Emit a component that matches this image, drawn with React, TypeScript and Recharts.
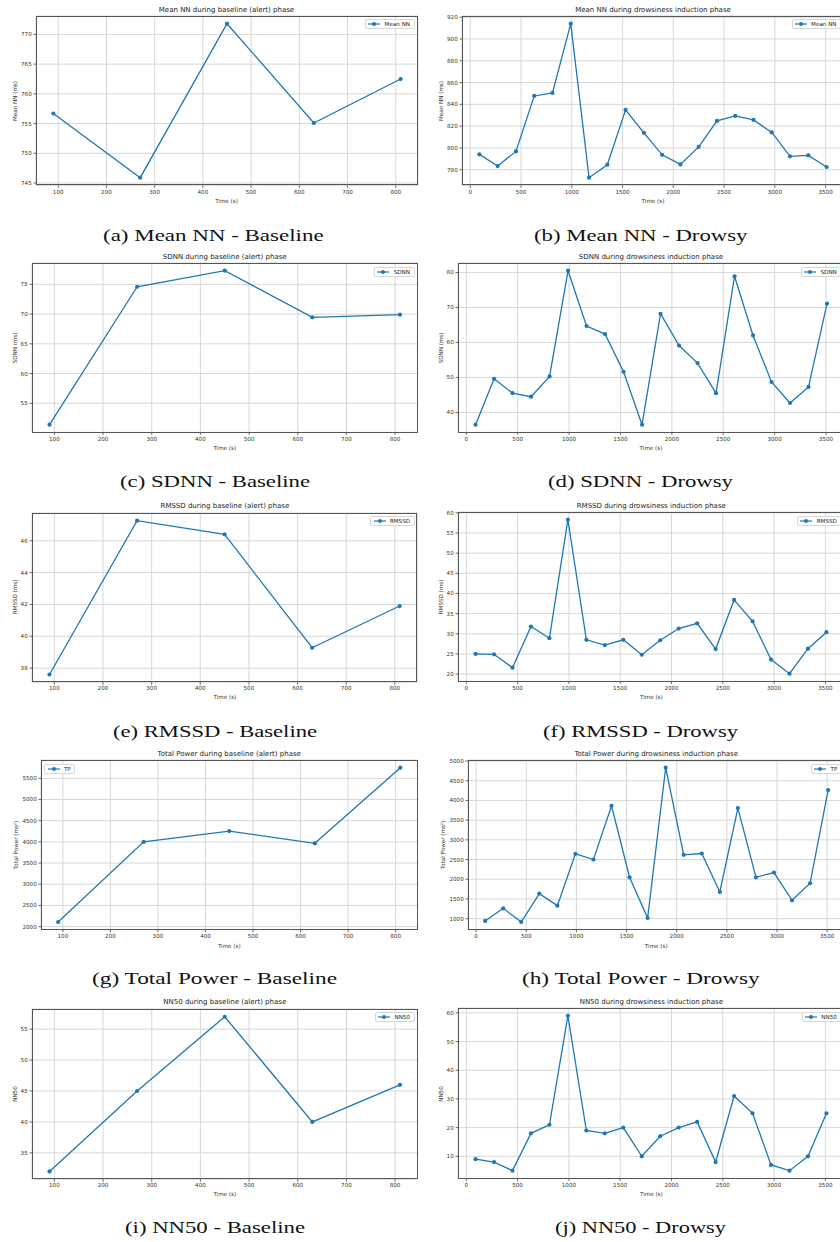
import React from 'react';
import { LineChart, Line, XAxis, YAxis, CartesianGrid } from 'recharts';

// ---------- DATA ----------
const timeBaseline = [90, 270, 450, 630, 810];
const timeDrowsy = [90, 270, 450, 630, 810, 990, 1170, 1350, 1530, 1710, 1890, 2070, 2250, 2430, 2610, 2790, 2970, 3150, 3330, 3510];

const meanNNBaseline = [756.7, 745.9, 771.8, 755.1, 762.5];
const meanNNDrowsy = [794.1, 783.4, 796.8, 847.7, 850.5, 914.0, 772.7, 784.6, 834.9, 813.9, 793.7, 784.9, 801.0, 824.8, 829.4, 825.7, 814.2, 792.3, 793.2, 782.5];
const sdnnBaseline = [51.4, 74.6, 77.3, 69.45, 69.9];
const sdnnDrowsy = [36.5, 49.6, 45.5, 44.5, 50.3, 80.5, 64.7, 62.4, 51.6, 36.5, 68.2, 59.1, 54.1, 45.5, 78.9, 62.0, 48.7, 42.7, 47.3, 71.1];
const rmssdBaseline = [37.6, 47.26, 46.4, 39.28, 41.9];
const rmssdDrowsy = [25.0, 24.9, 21.6, 31.8, 28.9, 58.3, 28.5, 27.2, 28.5, 24.8, 28.4, 31.3, 32.6, 26.2, 38.4, 33.1, 23.6, 20.1, 26.3, 30.4];
const tpBaseline = [2110, 4000, 4255, 3965, 5750];
const tpDrowsy = [942, 1262, 916, 1636, 1330, 2645, 2500, 3865, 2050, 1017, 4830, 2620, 2653, 1678, 3805, 2050, 2170, 1466, 1898, 4263];
const nn50Baseline = [32, 45, 57, 40, 46];
const nn50Drowsy = [9, 8, 5, 18, 21, 59, 19, 18, 20, 10, 17, 20, 22, 8, 31, 25, 7, 5, 10, 25];

const xTicksBaseline = [100, 200, 300, 400, 500, 600, 700, 800];
const xTicksDrowsy = [0, 500, 1000, 1500, 2000, 2500, 3000, 3500];

const yTicksMeanNNBaseline = [745, 750, 755, 760, 765, 770];
const yTicksMeanNNDrowsy = [780, 800, 820, 840, 860, 880, 900, 920];
const yTicksSdnnBaseline = [55, 60, 65, 70, 75];
const yTicksSdnnDrowsy = [40, 50, 60, 70, 80];
const yTicksRmssdBaseline = [38, 40, 42, 44, 46];
const yTicksRmssdDrowsy = [20, 25, 30, 35, 40, 45, 50, 55, 60];
const yTicksTpBaseline = [2000, 2500, 3000, 3500, 4000, 4500, 5000, 5500];
const yTicksTpDrowsy = [1000, 1500, 2000, 2500, 3000, 3500, 4000, 4500, 5000];
const yTicksNn50Baseline = [35, 40, 45, 50, 55];
const yTicksNn50Drowsy = [10, 20, 30, 40, 50, 60];

const seriesNames = ['Mean NN', 'SDNN', 'RMSSD', 'TP', 'NN50'];
const yLabels = ['Mean NN (ms)', 'SDNN (ms)', 'RMSSD (ms)', 'Total Power (ms\u00B2)', 'NN50'];
const titlesBaseline = [
  'Mean NN during baseline (alert) phase',
  'SDNN during baseline (alert) phase',
  'RMSSD during baseline (alert) phase',
  'Total Power during baseline (alert) phase',
  'NN50 during baseline (alert) phase',
];
const titlesDrowsy = [
  'Mean NN during drowsiness induction phase',
  'SDNN during drowsiness induction phase',
  'RMSSD during drowsiness induction phase',
  'Total Power during drowsiness induction phase',
  'NN50 during drowsiness induction phase',
];
const captionsBaseline = ['(a) Mean NN - Baseline', '(c) SDNN - Baseline', '(e) RMSSD - Baseline', '(g) Total Power - Baseline', '(i) NN50 - Baseline'];
const captionsDrowsy = ['(b) Mean NN - Drowsy', '(d) SDNN - Drowsy', '(f) RMSSD - Drowsy', '(h) Total Power - Drowsy', '(j) NN50 - Drowsy'];
const xLabel = 'Time (s)';

// ---------- LAYOUT ----------
type Rect = { l: number; t: number; r: number; b: number };
const rectsLeft: Rect[] = [
  { l: 35.5, t: 16, r: 417.5, b: 185.4 },
  { l: 32, t: 263.3, r: 417.5, b: 432.7 },
  { l: 32.3, t: 512.5, r: 417.5, b: 681.7 },
  { l: 41, t: 760.3, r: 417.5, b: 930 },
  { l: 32, t: 1008.5, r: 417.5, b: 1178.7 },
];
const rectsRight: Rect[] = [
  { l: 462, t: 16, r: 844, b: 185.4 },
  { l: 457.7, t: 263.3, r: 844.3, b: 432.7 },
  { l: 458.3, t: 512.3, r: 844.3, b: 681.7 },
  { l: 467.6, t: 760.3, r: 844.9, b: 930 },
  { l: 458.3, t: 1008.3, r: 844.3, b: 1178.7 },
];
const yLabelXLeft = [15, 15, 15, 15.7, 15];
const yLabelXRight = [440.7, 440.7, 440.7, 442.7, 440.7];
const legendSideLeft = ['right', 'right', 'right', 'left', 'right'];
const captionLeft = [
  { cx: 213, base: 240.8, w: 220.6 },
  { cx: 215, base: 487, w: 190 },
  { cx: 215.3, base: 737, w: 204 },
  { cx: 214.2, base: 983.7, w: 245 },
  { cx: 215, base: 1232.6, w: 180 },
];
const captionRight = [
  { cx: 641, base: 240.8, w: 213.4 },
  { cx: 640.8, base: 487, w: 185 },
  { cx: 640.8, base: 737, w: 195 },
  { cx: 640.5, base: 983.7, w: 237.6 },
  { cx: 640.5, base: 1232.6, w: 171 },
];

const PAGE_W = 840;
const PAGE_H = 1242;
const BLUE = '#1f77b4';
const SANS = "'DejaVu Sans', sans-serif";
const TICK_FS = 5.6;

function paddedDomain(vals: number[]): [number, number] {
  const mn = Math.min(...vals);
  const mx = Math.max(...vals);
  const m = (mx - mn) * 0.05;
  return [mn - m, mx + m];
}

type PanelProps = {
  times: number[];
  values: number[];
  xTicks: number[];
  yTicks: number[];
  rect: Rect;
  title: string;
  yLabel: string;
  yLabelX: number;
  name: string;
  legendSide: string;
  caption: string;
  cap: { cx: number; base: number; w: number };
};

function Panel(p: PanelProps) {
  const { rect } = p;
  const data = p.times.map((t, i) => ({ t, v: p.values[i] }));
  const yAxisW = 28;
  const mTop = 3;
  const mRight = 3;
  const xAxisH = 14;
  const pw = rect.r - rect.l;
  const ph = rect.b - rect.t;
  const chartW = yAxisW + pw + mRight;
  const chartH = mTop + ph + xAxisH;
  const tickStyle = { fontSize: TICK_FS, fill: '#333', fontFamily: SANS };

  const legendStyle: React.CSSProperties = {
    position: 'absolute',
    top: rect.t + 3.3,
    height: 10,
    boxSizing: 'border-box',
    border: '1px solid #d6d6d6',
    borderRadius: 2,
    background: 'rgba(255,255,255,0.9)',
    display: 'flex',
    alignItems: 'center',
    padding: '0 3.5px 0 2.3px',
    fontFamily: SANS,
    fontSize: TICK_FS,
    color: '#222',
    whiteSpace: 'nowrap',
  };
  if (p.legendSide === 'left') legendStyle.left = rect.l + 3.3;
  else legendStyle.right = PAGE_W - (rect.r - 3);

  return (
    <>
      <div style={{ position: 'absolute', left: rect.l - yAxisW, top: rect.t - mTop }}>
        <LineChart width={chartW} height={chartH} data={data} margin={{ top: mTop, right: mRight, bottom: 0, left: 0 }}>
          <CartesianGrid stroke="#d3d3d3" strokeWidth={0.9} />
          <XAxis
            type="number"
            dataKey="t"
            domain={paddedDomain(p.times)}
            allowDataOverflow
            ticks={p.xTicks}
            interval={0}
            height={xAxisH}
            tick={tickStyle}
            tickSize={2.5}
            tickMargin={1.8}
            axisLine={false}
            tickLine={{ stroke: '#444', strokeWidth: 0.8 }}
          />
          <YAxis
            type="number"
            domain={paddedDomain(p.values)}
            allowDataOverflow
            ticks={p.yTicks}
            interval={0}
            width={yAxisW}
            tick={tickStyle}
            tickSize={2.5}
            tickMargin={1.8}
            axisLine={false}
            tickLine={{ stroke: '#444', strokeWidth: 0.8 }}
          />
          <Line
            type="linear"
            dataKey="v"
            name={p.name}
            stroke={BLUE}
            strokeWidth={1.3}
            dot={{ r: 2.1, fill: BLUE, stroke: BLUE, strokeWidth: 0 }}
            activeDot={false}
            isAnimationActive={false}
          />
        </LineChart>
      </div>
      {/* axes frame */}
      <div
        style={{
          position: 'absolute',
          left: rect.l,
          top: rect.t,
          width: pw,
          height: ph,
          boxSizing: 'border-box',
          border: '0.9px solid #555',
          pointerEvents: 'none',
        }}
      />
      {/* title */}
      <div
        style={{
          position: 'absolute',
          left: rect.l,
          width: pw,
          top: rect.t - 6.5,
          transform: 'translateY(-50%)',
          textAlign: 'center',
          fontFamily: SANS,
          fontSize: 7,
          lineHeight: '8px',
          color: '#222',
          whiteSpace: 'nowrap',
        }}
      >
        {p.title}
      </div>
      {/* x label */}
      <div
        style={{
          position: 'absolute',
          left: rect.l,
          width: pw,
          top: rect.b + 15.5,
          transform: 'translateY(-50%)',
          textAlign: 'center',
          fontFamily: SANS,
          fontSize: TICK_FS,
          lineHeight: '7px',
          color: '#333',
          whiteSpace: 'nowrap',
        }}
      >
        {xLabel}
      </div>
      {/* y label */}
      <div
        style={{
          position: 'absolute',
          left: p.yLabelX,
          top: (rect.t + rect.b) / 2,
          transform: 'translate(-50%, -50%) rotate(-90deg)',
          fontFamily: SANS,
          fontSize: TICK_FS,
          lineHeight: '7px',
          color: '#333',
          whiteSpace: 'nowrap',
        }}
      >
        {p.yLabel}
      </div>
      {/* legend */}
      <div style={legendStyle}>
        <svg width={12} height={6} style={{ display: 'block' }}>
          <line x1={0} y1={3} x2={12} y2={3} stroke={BLUE} strokeWidth={1.2} />
          <circle cx={6} cy={3} r={2} fill={BLUE} />
        </svg>
        <span style={{ marginLeft: 4.3, lineHeight: '8px' }}>{p.name}</span>
      </div>
      {/* caption */}
      <svg
        width={p.cap.w + 40}
        height={30}
        style={{ position: 'absolute', left: p.cap.cx - (p.cap.w + 40) / 2, top: p.cap.base - 20 }}
      >
        <text
          x={(p.cap.w + 40) / 2}
          y={20}
          textAnchor="middle"
          textLength={p.cap.w}
          lengthAdjust="spacingAndGlyphs"
          fontFamily="'Liberation Serif', 'DejaVu Serif', serif"
          fontSize={16}
          fill="#111"
        >
          {p.caption}
        </text>
      </svg>
    </>
  );
}

export default function App() {
  const baselineSeries = [meanNNBaseline, sdnnBaseline, rmssdBaseline, tpBaseline, nn50Baseline];
  const drowsySeries = [meanNNDrowsy, sdnnDrowsy, rmssdDrowsy, tpDrowsy, nn50Drowsy];
  const yTicksB = [yTicksMeanNNBaseline, yTicksSdnnBaseline, yTicksRmssdBaseline, yTicksTpBaseline, yTicksNn50Baseline];
  const yTicksD = [yTicksMeanNNDrowsy, yTicksSdnnDrowsy, yTicksRmssdDrowsy, yTicksTpDrowsy, yTicksNn50Drowsy];

  return (
    <div
      style={{
        position: 'absolute',
        left: 0,
        top: 0,
        width: PAGE_W,
        height: PAGE_H,
        overflow: 'hidden',
        background: '#fff',
      }}
    >
      {seriesNames.map((name, i) => (
        <React.Fragment key={name}>
          <Panel
            times={timeBaseline}
            values={baselineSeries[i]}
            xTicks={xTicksBaseline}
            yTicks={yTicksB[i]}
            rect={rectsLeft[i]}
            title={titlesBaseline[i]}
            yLabel={yLabels[i]}
            yLabelX={yLabelXLeft[i]}
            name={name}
            legendSide={legendSideLeft[i]}
            caption={captionsBaseline[i]}
            cap={captionLeft[i]}
          />
          <Panel
            times={timeDrowsy}
            values={drowsySeries[i]}
            xTicks={xTicksDrowsy}
            yTicks={yTicksD[i]}
            rect={rectsRight[i]}
            title={titlesDrowsy[i]}
            yLabel={yLabels[i]}
            yLabelX={yLabelXRight[i]}
            name={name}
            legendSide="right"
            caption={captionsDrowsy[i]}
            cap={captionRight[i]}
          />
        </React.Fragment>
      ))}
    </div>
  );
}
